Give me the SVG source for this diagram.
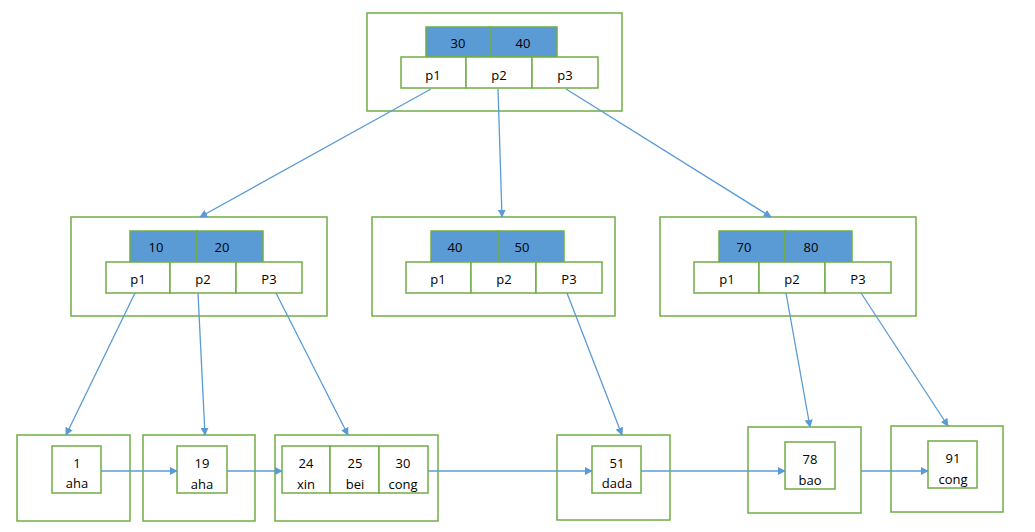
<svg xmlns="http://www.w3.org/2000/svg" width="1035" height="532" viewBox="0 0 1035 532">
<style>
.o{fill:#fff;stroke:#70AD47;stroke-width:1.5}
.k{fill:#5B9BD5;stroke:#70AD47;stroke-width:1.5}
.c{fill:#fff;stroke:#70AD47;stroke-width:1.5}
text{font-family:"Open Sans","Liberation Sans",sans-serif;font-size:13px;fill:#000;text-anchor:middle;dominant-baseline:central}
.e{stroke:#5B9BD5;stroke-width:1.3;fill:none;marker-end:url(#a)}
</style>
<defs>
<marker id="a" viewBox="0 0 10 10" refX="9" refY="5" markerWidth="8" markerHeight="8" markerUnits="userSpaceOnUse" orient="auto">
<path d="M0,0 L10,5 L0,10 z" fill="#5B9BD5"/>
</marker>
</defs>
<rect width="1035" height="532" fill="#fff"/>
<g id="root">
<rect class="o" x="367" y="13" width="255" height="98"/>
<rect class="k" x="426" y="27" width="64" height="30"/>
<rect class="k" x="490" y="27" width="67" height="30"/>
<rect class="c" x="401" y="57" width="65" height="31"/>
<rect class="c" x="466" y="57" width="66" height="31"/>
<rect class="c" x="532" y="57" width="66" height="31"/>
<text x="458" y="43">30</text><text x="523" y="43">40</text>
<text x="433" y="75">p1</text><text x="499" y="75">p2</text><text x="565" y="75">p3</text>
</g>
<g id="n1020">
<rect class="o" x="71" y="217" width="256" height="99"/>
<rect class="k" x="130" y="231" width="67" height="31"/>
<rect class="k" x="197" y="231" width="66" height="31"/>
<rect class="c" x="106" y="262" width="64" height="31"/>
<rect class="c" x="170" y="262" width="66" height="31"/>
<rect class="c" x="236" y="262" width="66" height="31"/>
<text x="156" y="247">10</text><text x="222" y="247">20</text>
<text x="138" y="279">p1</text><text x="203" y="279">p2</text><text x="269" y="279">P3</text>
</g>
<g id="n4050">
<rect class="o" x="372" y="217" width="243" height="99"/>
<rect class="k" x="431" y="231" width="67" height="31"/>
<rect class="k" x="498" y="231" width="66" height="31"/>
<rect class="c" x="406" y="262" width="65" height="31"/>
<rect class="c" x="471" y="262" width="65" height="31"/>
<rect class="c" x="536" y="262" width="66" height="31"/>
<text x="455" y="247">40</text><text x="522" y="247">50</text>
<text x="438" y="279">p1</text><text x="504" y="279">p2</text><text x="569" y="279">P3</text>
</g>
<g id="n7080">
<rect class="o" x="660" y="217" width="256" height="99"/>
<rect class="k" x="719" y="231" width="66" height="31"/>
<rect class="k" x="785" y="231" width="67" height="31"/>
<rect class="c" x="694" y="262" width="65" height="31"/>
<rect class="c" x="759" y="262" width="66" height="31"/>
<rect class="c" x="825" y="262" width="66" height="31"/>
<text x="744" y="247">70</text><text x="811" y="247">80</text>
<text x="727" y="279">p1</text><text x="792" y="279">p2</text><text x="858" y="279">P3</text>
</g>
<g id="leaf1">
<rect class="o" x="17" y="435" width="113" height="86"/>
<rect class="c" x="52" y="446" width="49" height="47"/>
<text x="77" y="463">1</text><text x="77" y="483">aha</text>
</g>
<g id="leaf19">
<rect class="o" x="143" y="435" width="112" height="86"/>
<rect class="c" x="177" y="446" width="50" height="47"/>
<text x="202" y="463">19</text><text x="202" y="484">aha</text>
</g>
<g id="leaf24">
<rect class="o" x="275" y="435" width="163" height="86"/>
<rect class="c" x="282" y="446" width="48" height="47"/>
<rect class="c" x="330" y="446" width="49" height="47"/>
<rect class="c" x="379" y="446" width="49" height="47"/>
<text x="306" y="463">24</text><text x="306" y="484">xin</text>
<text x="355" y="463">25</text><text x="355" y="484">bei</text>
<text x="403" y="463">30</text><text x="403" y="484">cong</text>
</g>
<g id="leaf51">
<rect class="o" x="557" y="435" width="113" height="85"/>
<rect class="c" x="592" y="446" width="49" height="47"/>
<text x="617" y="463">51</text><text x="617" y="483">dada</text>
</g>
<g id="leaf78">
<rect class="o" x="748" y="427" width="113" height="86"/>
<rect class="c" x="785" y="442" width="50" height="47"/>
<text x="810" y="459">78</text><text x="810" y="480">bao</text>
</g>
<g id="leaf91">
<rect class="o" x="891" y="426" width="112" height="86"/>
<rect class="c" x="928" y="441" width="49" height="47"/>
<text x="953" y="458">91</text><text x="953" y="479">cong</text>
</g>
<g id="connectors">
<line class="e" x1="431" y1="89" x2="200" y2="217"/>
<line class="e" x1="498" y1="89" x2="502" y2="217"/>
<line class="e" x1="566" y1="89" x2="771" y2="217"/>
<line class="e" x1="135" y1="293" x2="66" y2="435"/>
<line class="e" x1="198" y1="293" x2="205" y2="435"/>
<line class="e" x1="276" y1="293" x2="348" y2="435"/>
<line class="e" x1="567" y1="293" x2="622" y2="435"/>
<line class="e" x1="786" y1="293" x2="810" y2="427"/>
<line class="e" x1="861" y1="293" x2="948" y2="426"/>
<line class="e" x1="101" y1="471" x2="177" y2="471"/>
<line class="e" x1="227" y1="471" x2="282" y2="471"/>
<line class="e" x1="428" y1="471" x2="592" y2="471"/>
<line class="e" x1="641" y1="471" x2="785" y2="471"/>
<line class="e" x1="861" y1="471" x2="928" y2="471"/>
</g>
</svg>
